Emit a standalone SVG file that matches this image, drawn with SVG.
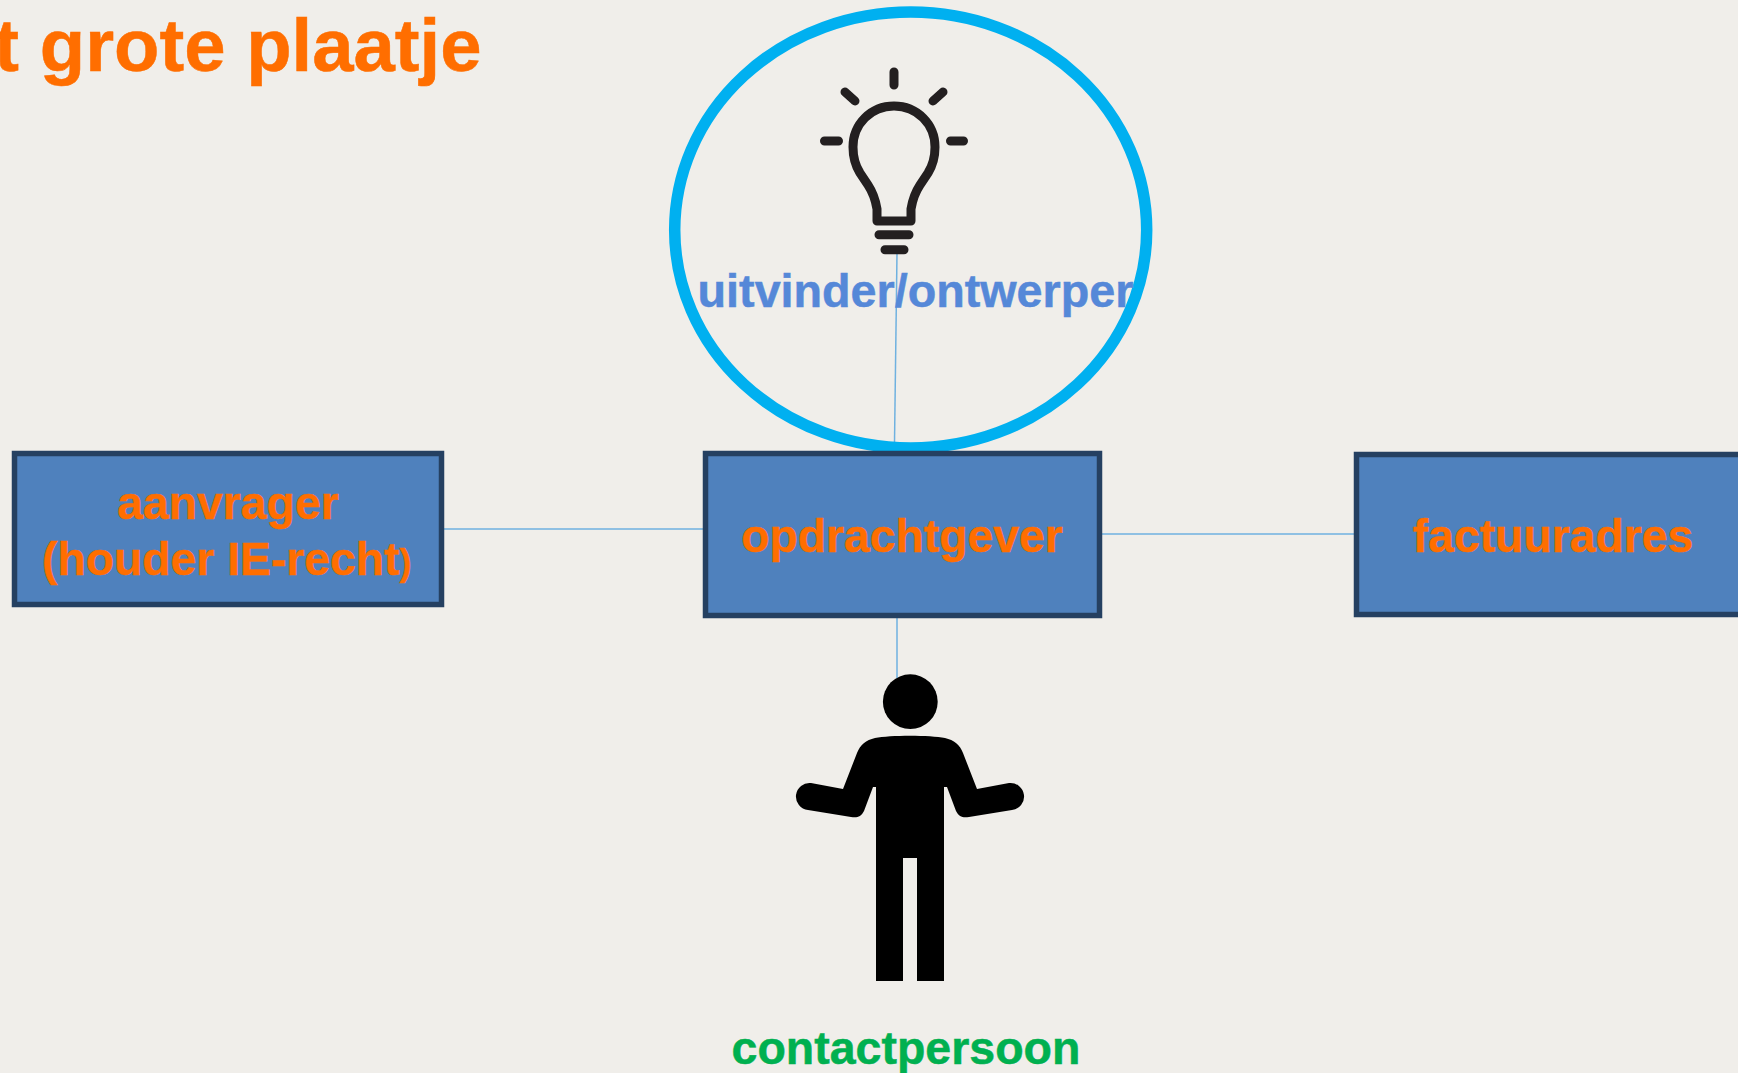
<svg xmlns="http://www.w3.org/2000/svg" width="1738" height="1073" viewBox="0 0 1738 1073">
<style>
text{font-family:"Liberation Sans",Arial,sans-serif;font-weight:700}
.o{fill:#ff6e00;stroke:#ff6e00;stroke-width:.5}
.t{font-size:46.300px;text-anchor:middle}
.box{fill:#4f81bd;stroke:#254061;stroke-width:5.500}
.c{stroke:#6fb1e0;stroke-width:1.500;fill:none}
.b{fill:none;stroke:#231f20;stroke-width:9;stroke-linecap:round;stroke-linejoin:round}
</style>
<rect width="1738" height="1073" fill="#f0eeea"/>
<text id="title" class="o" x="481.500" y="71" font-size="74.300" text-anchor="end">t grote plaatje</text>
<g id="connectors">
<line class="c" x1="443" y1="529" x2="704" y2="529"/>
<line class="c" x1="1102" y1="534" x2="1355" y2="534"/>
<line class="c" x1="897" y1="253" x2="894.500" y2="443"/>
<line class="c" x1="897" y1="618" x2="897" y2="678"/>
</g>
<g id="uitvinder">
<ellipse cx="910.700" cy="230" rx="236" ry="218" fill="none" stroke="#00b0f0" stroke-width="11.500"/>
<path class="b" d="M877 221V209C875 197 872 191 868 185L860 173C855 165 853 156 853 147C853 124 871 106 894 106C917 106 935 124 935 147C935 156 933 165 928 173L920 185C916 191 913 197 911 209V221Z"/>
<path class="b" d="M894 72V85M824.500 141H838.500M950.500 141H963.500M845 92L855 101M943 92L933 101M879 234.700H909M885 249.700H904"/>
<text x="915.500" y="306.500" font-size="46.700" text-anchor="middle" fill="#5588d8" stroke="#5588d8" stroke-width=".5">uitvinder/ontwerper</text>
</g>
<g id="aanvrager">
<rect class="box" x="14.500" y="453.500" width="427" height="151"/>
<text class="o t" x="228" y="519">aanvrager</text>
<text class="o" x="42" y="575" font-size="46.300">(houder IE-recht<tspan font-size="36">)</tspan></text>
</g>
<g id="opdrachtgever">
<rect class="box" x="705.500" y="453.500" width="394" height="162"/>
<text class="o t" x="902" y="552">opdrachtgever</text>
</g>
<g id="factuuradres">
<rect class="box" x="1356.500" y="454.500" width="390" height="160"/>
<text class="o t" x="1553" y="552">factuuradres</text>
</g>
<g id="contactpersoon">
<circle cx="910.300" cy="701.700" r="27.400" fill="#000"/>
<path fill="#000" d="M876 981V787H873L864 811C861 817 857 818 851 817L808 810A13.500 13.500 0 0 1 811 783L843 789L857 753C860 745 866 740 875 738C890 735 930 735 945 738C954 740 960 745 963 753L977 789L1009 783A13.500 13.500 0 0 1 1012 810L969 817C963 818 959 817 956 811L947 787H944V981H917V858H903V981Z"/>
<text x="906" y="1063.500" font-size="46.500" text-anchor="middle" fill="#00b050" stroke="#00b050" stroke-width=".5">contactpersoon</text>
</g>
</svg>
